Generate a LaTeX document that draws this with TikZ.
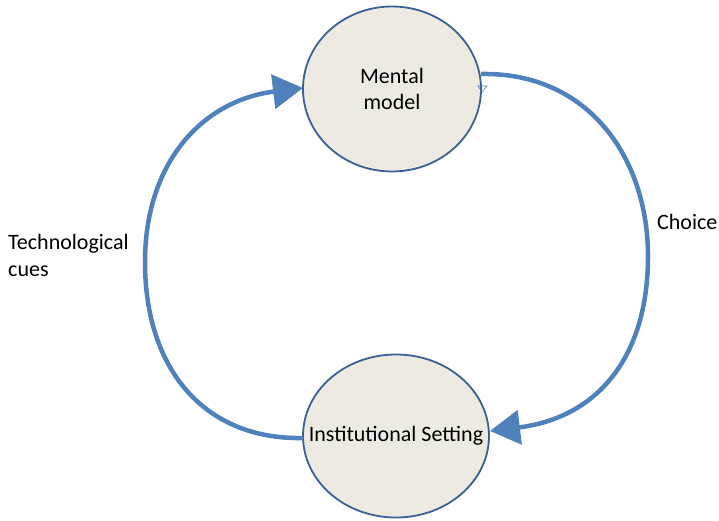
\documentclass[tikz,border=0pt]{standalone}
\usepackage{fontspec}
\setmainfont{Carlito}
\usetikzlibrary{arrows.meta,shapes.geometric}
\definecolor{arcblue}{HTML}{4F81BD}
\definecolor{edgeblue}{HTML}{3A6096}
\definecolor{bubble}{HTML}{EDEBE1}
\tikzset{
  bubblenode/.style={ellipse, draw=edgeblue, line width=1.8pt, fill=bubble, inner sep=0pt},
  bubbletext/.style={align=center, inner sep=0pt, font=\fontsize{22}{26}\selectfont},
  arcline/.style={draw=arcblue, line width=4.5pt, -{Triangle[length=30pt,width=34pt]}},
  lbl/.style={font=\fontsize{22}{27}\selectfont, align=left, inner sep=0pt}
}
\begin{document}
\begin{tikzpicture}[x=1pt,y=-1pt]
\useasboundingbox (0,0) rectangle (719,521);
\node[bubblenode, minimum width=178pt, minimum height=165pt] (mm) at (392,89) {};
\node[bubbletext] (mmt) at (mm.center) {Mental\\model};
\node[bubblenode, minimum width=186pt, minimum height=163pt] (is) at (396,436) {};
\node[bubbletext] (ist) at (is.center) {Institutional Setting};
\coordinate (a1) at (303,438);
\coordinate (a2) at (303,88);
\coordinate (b1) at (481,74);
\coordinate (b2) at (490,431);
\draw[arcline] (a1) .. controls (205,440) and (145,370) .. (145,262) .. controls (145,160) and (205,100) .. (a2);
\draw[arcline] (b1) .. controls (590,72) and (648,160) .. (648,256) .. controls (648,360) and (595,418) .. (b2);
\node[lbl, anchor=north west] (tc) at (8,234) {Technological\\cues};
\node[lbl, anchor=north west] (ch) at (657,214) {Choice};
\coordinate (t0) at (478,86);
\draw[arcblue, line width=0.6pt] (t0) -- ++(9,0) -- ++(-5,6) -- cycle;
\end{tikzpicture}
\end{document}
